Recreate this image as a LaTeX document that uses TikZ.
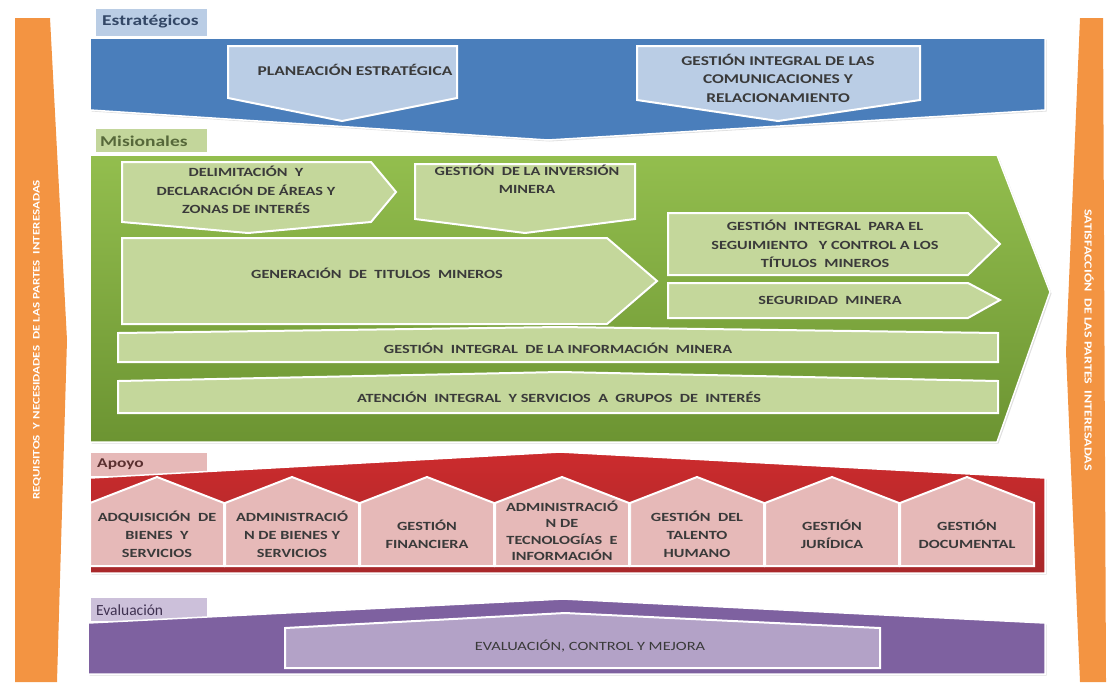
\documentclass[tikz,border=0pt]{standalone}
\usepackage{fontspec}
\setmainfont{Carlito}[FakeStretch=1.3]
\newfontfamily\plainfont{Carlito}
\usetikzlibrary{shadows}
\definecolor{orng}{HTML}{F39442}
\definecolor{blueband}{HTML}{4A7EBB}
\definecolor{bluein}{HTML}{BACDE5}
\definecolor{greentop}{HTML}{93BE4E}
\definecolor{greenbot}{HTML}{6C9432}
\definecolor{greenin}{HTML}{C4D79B}
\definecolor{redtop}{HTML}{CC2B2D}
\definecolor{redbot}{HTML}{A8282A}
\definecolor{pinkin}{HTML}{E6B9B8}
\definecolor{purpband}{HTML}{7E61A0}
\definecolor{purpin}{HTML}{B3A2C7}
\definecolor{purptab}{HTML}{CCC0DA}
\definecolor{greentab}{HTML}{C3D69B}
\definecolor{txt}{HTML}{3A3A3A}
\definecolor{tabEtxt}{HTML}{334766}
\definecolor{tabMtxt}{HTML}{56683A}
\definecolor{tabAtxt}{HTML}{5A3030}
\definecolor{tabVtxt}{HTML}{3F3151}
\begin{document}
\begin{tikzpicture}[x=1pt,y=-1pt,
  band/.style={draw=white, line width=1.5pt, drop shadow={opacity=0.25, shadow xshift=1.5pt, shadow yshift=-1.5pt}},
  inbox/.style={draw=white, line width=2pt, drop shadow={opacity=0.3, shadow xshift=1pt, shadow yshift=-1pt}},
  lbl/.style={font=\fontsize{12.5}{18.5}\selectfont\bfseries, text=txt, align=center, inner sep=0pt},
  blbl/.style={lbl, font=\fontsize{13.4}{18.5}\selectfont\bfseries},
  hlbl/.style={lbl, font=\fontsize{12.5}{18}\selectfont\bfseries},
  tabtxt/.style={font=\fontsize{15}{16}\selectfont\bfseries, anchor=west, inner sep=0pt},
  side/.style={font=\fontsize{10}{11}\selectfont\bfseries, text=white, inner sep=0pt},
  tab/.style={draw=white, line width=1pt}
]
\useasboundingbox (0,0) rectangle (1115,689);
% side bars
\fill[orng] (15,18) -- (50,18) -- (67,340) -- (57,682) -- (15,682) -- cycle;
\fill[orng] (1080,18) -- (1103,18) -- (1106,682) -- (1080,682) -- (1066,352) -- cycle;
\node[side, rotate=90] (req) at (37,340) {REQUISITOS \ Y NECESIDADES \ DE LAS PARTES \ INTERESADAS};
\node[side, font=\fontsize{10.8}{11}\selectfont\bfseries, rotate=-90] (sat) at (1089,340) {SATISFACCIÓN \ DE LAS PARTES \ INTERESADAS};

% Estrategicos
\path[tab, fill=bluein] (95,8) rectangle (207,36);
\node[tabtxt, text=tabEtxt] (tE) at (102,22) {Estratégicos};
\path[band, fill=blueband] (90,38) -- (1045,38) -- (1045,110) -- (548,140) -- (90,110) -- cycle;
\path[inbox, fill=bluein] (228,46) -- (457,46) -- (457,98) -- (342,121) -- (228,98) -- cycle;
\path[inbox, fill=bluein] (637,46) -- (920,46) -- (920,100) -- (778,121) -- (637,100) -- cycle;
\node[blbl] (plan) at (355,70) {PLANEACIÓN ESTRATÉGICA};
\node[blbl] (comun) at (778,78) {GESTIÓN INTEGRAL DE LAS\\COMUNICACIONES Y\\RELACIONAMIENTO};

% Misionales
\path[tab, fill=greentab] (95,128) rectangle (207,152);
\node[tabtxt, text=tabMtxt] (tM) at (100,141) {Misionales};
\path[band, top color=greentop, bottom color=greenbot] (90,155) -- (997,155) -- (1050,292) -- (997,442) -- (90,442) -- cycle;
\path[inbox, fill=greenin] (122,162) -- (371,162) -- (396,192) -- (371,222) -- (248,233) -- (122,222) -- cycle;
\path[inbox, fill=greenin] (415,164) -- (635,164) -- (635,219) -- (525,233) -- (415,219) -- cycle;
\path[inbox, fill=greenin] (122,238) -- (607,238) -- (657,281) -- (607,324) -- (122,324) -- cycle;
\path[inbox, fill=greenin] (668,213) -- (968,213) -- (1000,244) -- (968,275) -- (668,275) -- cycle;
\path[inbox, fill=greenin] (668,283) -- (968,283) -- (1000,300) -- (968,318) -- (668,318) -- cycle;
\path[inbox, fill=greenin] (118,333) -- (560,327) -- (998,333) -- (998,362) -- (118,362) -- cycle;
\path[inbox, fill=greenin] (118,381) -- (560,372) -- (998,381) -- (998,413) -- (118,413) -- cycle;
\node[lbl] (delim) at (246,190) {DELIMITACIÓN \ Y\\DECLARACIÓN DE ÁREAS Y\\ZONAS DE INTERÉS};
\node[lbl] (inver) at (527,179) {GESTIÓN \ DE LA INVERSIÓN\\MINERA};
\node[lbl] (gener) at (377,273) {GENERACIÓN \ DE \ TITULOS \ MINEROS};
\node[lbl] (segui) at (825,244) {GESTIÓN \ INTEGRAL \ PARA EL\\SEGUIMIENTO \ \ Y CONTROL A LOS\\TÍTULOS \ MINEROS};
\node[lbl] (segur) at (830,300) {SEGURIDAD \ MINERA};
\node[lbl] (info) at (558,348) {GESTIÓN \ INTEGRAL \ DE LA INFORMACIÓN \ MINERA};
\node[lbl] (atenc) at (559,397) {ATENCIÓN \ INTEGRAL \ Y SERVICIOS \ A \ GRUPOS \ DE \ INTERÉS};

% Apoyo
\path[tab, fill=pinkin] (90,452) rectangle (207,476);
\node[tabtxt, font=\fontsize{13.4}{16}\selectfont\bfseries, text=tabAtxt] (tA) at (97,464) {Apoyo};
\path[band, top color=redtop, bottom color=redbot] (90,478) -- (560,452) -- (1045,478) -- (1045,573) -- (90,573) -- cycle;
\foreach \c/\nm/\t in {157/h1/{ADQUISICIÓN \ DE\\BIENES \ Y\\SERVICIOS},
                      292/h2/{ADMINISTRACIÓ\\N DE BIENES Y\\SERVICIOS},
                      427/h3/{GESTIÓN\\FINANCIERA},
                      697/h5/{GESTIÓN \ DEL\\TALENTO\\HUMANO},
                      832/h6/{GESTIÓN\\JURÍDICA},
                      967/h7/{GESTIÓN\\DOCUMENTAL}} {
  \path[inbox, fill=pinkin] (\c-67,566) -- (\c-67,503) -- (\c,477) -- (\c+67,503) -- (\c+67,566) -- cycle;
  \node[hlbl] (\nm) at (\c,534) {\t};
}
\path[inbox, fill=pinkin] (495,566) -- (495,503) -- (562,477) -- (629,503) -- (629,566) -- cycle;
\node[hlbl, font=\fontsize{12.5}{16.5}\selectfont\bfseries] (h4) at (562,531) {ADMINISTRACIÓ\\N DE\\TECNOLOGÍAS \ E\\INFORMACIÓN};

% Evaluacion
\path[tab, fill=purptab] (90,597) rectangle (207,621);
\node[tabtxt, font=\plainfont\fontsize{15.5}{17}\selectfont, text=tabVtxt] (tV) at (96,610) {Evaluación};
\path[band, fill=purpband] (88,623) -- (563,599) -- (1045,623) -- (1045,674) -- (88,674) -- cycle;
\path[inbox, fill=purpin] (285,628) -- (565,613) -- (880,628) -- (880,668) -- (285,668) -- cycle;
\node[lbl, font=\fontsize{12.6}{15}\selectfont] (evalc) at (590,646) {EVALUACIÓN, CONTROL Y MEJORA};
\end{tikzpicture}
\end{document}
